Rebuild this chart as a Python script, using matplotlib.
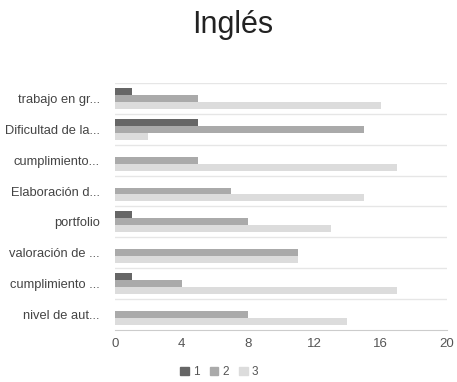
import numpy as np
import matplotlib.pyplot as plt
from matplotlib.patches import Patch

plt.rcParams["font.family"] = ["Liberation Sans", "DejaVu Sans"]

categories = ["trabajo en gr...", "Dificultad de la...", "cumplimiento...",
              "Elaboración d...", "portfolio", "valoración de ...",
              "cumplimiento ...", "nivel de aut..."]
serie_1 = [1, 5, 0, 0, 1, 0, 1, 0]
serie_2 = [5, 15, 5, 7, 8, 11, 4, 8]
serie_3 = [16, 2, 17, 15, 13, 11, 17, 14]
series_names = ["1", "2", "3"]
colors = ["#666666", "#aaaaaa", "#dcdcdc"]

fig = plt.figure(figsize=(4.57, 3.82), dpi=100)
ax = fig.add_axes([0.252, 0.136, 0.726, 0.647])

y = np.arange(len(categories))
h = 0.225
for i, (vals, c) in enumerate(zip([serie_1, serie_2, serie_3], colors)):
    ax.barh(y + (i - 1) * h, vals, height=h, color=c, zorder=2)

ax.set_ylim(len(categories) - 0.5, -0.5)
ax.set_xlim(0, 20)
for b in np.arange(-0.5, len(categories) - 0.5, 1.0):
    ax.axhline(b, color="#e6e6e6", lw=1, zorder=1)

ax.set_yticks(y)
ax.set_yticklabels(categories, fontsize=9.3, color="#444444")
ax.set_xticks([0, 4, 8, 12, 16, 20])
ax.tick_params(axis="x", labelsize=9.5, labelcolor="#555555", length=0, pad=6)
ax.tick_params(axis="y", length=0, pad=11)
for s in ["top", "right", "left"]:
    ax.spines[s].set_visible(False)
ax.spines["bottom"].set_color("#cccccc")

fig.suptitle("Inglés", fontsize=22, x=0.51, y=0.975, color="#222222")

handles = [Patch(color=c, label=n) for c, n in zip(colors, series_names)]
fig.legend(handles=handles, loc="center", bbox_to_anchor=(0.48, 0.025), ncol=3,
           frameon=False, fontsize=8.5, handlelength=0.7, handleheight=0.7,
           handletextpad=0.35, columnspacing=0.9, labelcolor="#555555")

fig.savefig("out.png", dpi=100)
